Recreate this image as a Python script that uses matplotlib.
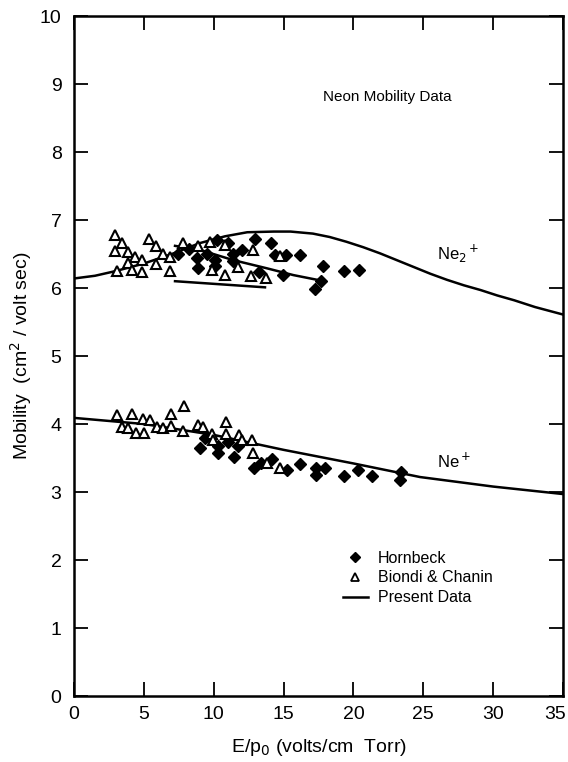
import matplotlib
matplotlib.use('Agg')
import matplotlib.pyplot as plt
import matplotlib.transforms as mtrans
from matplotlib.lines import Line2D

# Hornbeck (filled diamonds), Ne2+ group
horn2_x = [7.47, 8.2, 8.78, 8.9, 9.5, 10.1, 10.1, 10.2, 11.05, 11.4, 12.0, 11.4, 12.96, 13.27,
           14.08, 14.39, 15.18, 16.18, 14.94, 17.25, 17.66, 17.85, 19.35, 20.4]
horn2_y = [6.5, 6.57, 6.44, 6.30, 6.5, 6.41, 6.32, 6.71, 6.66, 6.5, 6.56, 6.39, 6.72, 6.24,
           6.66, 6.49, 6.49, 6.49, 6.19, 5.98, 6.11, 6.32, 6.25, 6.27]
# Biondi & Chanin (open triangles), Ne2+ group
bc2_x = [2.93, 3.4, 2.93, 3.9, 4.37, 4.85, 3.9, 3.05, 4.13, 4.9, 5.39, 5.87, 5.87, 6.4, 6.87,
         6.87, 7.83, 8.9, 9.73, 10.8, 12.8, 11.76, 9.86, 10.8, 12.7, 13.75, 14.75]
bc2_y = [6.78, 6.66, 6.55, 6.53, 6.45, 6.41, 6.37, 6.25, 6.26, 6.23, 6.72, 6.62, 6.35, 6.5, 6.45,
         6.25, 6.66, 6.62, 6.67, 6.63, 6.56, 6.31, 6.26, 6.19, 6.18, 6.14, 6.47]
# Biondi & Chanin, Ne+ group
bc1_x = [3.1, 4.13, 4.92, 5.44, 3.41, 3.89, 4.44, 5.01, 5.92, 6.4, 6.92, 6.92, 7.87, 7.83, 8.9,
         9.26, 9.86, 9.97, 10.86, 10.86, 11.81, 12.0, 12.76, 12.83, 13.79, 14.75]
bc1_y = [4.13, 4.14, 4.07, 4.06, 3.95, 3.94, 3.87, 3.87, 3.95, 3.94, 4.14, 3.97, 4.26, 3.89, 3.99,
         3.96, 3.86, 3.76, 4.03, 3.86, 3.84, 3.77, 3.77, 3.58, 3.43, 3.36]
# Hornbeck, Ne+ group
horn1_x = [9.02, 9.38, 10.33, 10.33, 11.05, 11.45, 11.76, 12.9, 13.36, 14.15, 15.22, 16.18,
           17.32, 17.32, 17.97, 19.33, 20.35, 21.36, 23.38, 23.34]
horn1_y = [3.64, 3.80, 3.68, 3.57, 3.74, 3.51, 3.68, 3.36, 3.43, 3.48, 3.32, 3.41,
           3.35, 3.25, 3.35, 3.24, 3.32, 3.24, 3.30, 3.17]

# Present data curves
ne2_x = [0, 1.5, 3.0, 5.0, 7.0, 9.0, 10.8, 12.4, 14.3, 15.5, 17.1, 18.3, 19.5, 20.7, 21.9,
         23.1, 24.3, 25.5, 26.7, 27.9, 29.1, 30.3, 31.5, 33.0, 35.0]
ne2_y = [6.14, 6.18, 6.25, 6.36, 6.50, 6.66, 6.76, 6.82, 6.83, 6.83, 6.80, 6.75, 6.68, 6.60, 6.51,
         6.41, 6.31, 6.21, 6.12, 6.04, 5.97, 5.89, 5.82, 5.72, 5.61]
ne2b_x = [7.23, 9.02, 11.4, 13.8, 15.7, 17.66]
ne2b_y = [6.62, 6.56, 6.41, 6.29, 6.19, 6.11]
ne2c_x = [7.23, 13.67]
ne2c_y = [6.10, 6.01]
ne1_x = [0, 5, 10, 15, 20, 24.77, 30, 35]
ne1_y = [4.09, 4.00, 3.84, 3.62, 3.42, 3.22, 3.08, 2.97]

xticks = [0, 5, 10, 15, 20, 25, 30, 35]
yticks = [0, 1, 2, 3, 4, 5, 6, 7, 8, 9, 10]

plain = ['Liberation Sans', 'DejaVu Sans']

fig = plt.figure(figsize=(5.68, 7.62), dpi=100)
ax = fig.add_axes([0.1303, 0.0866, 0.8609, 0.8924])

lw = 1.8
ax.plot(ne2_x, ne2_y, color='black', lw=lw)
ax.plot(ne2b_x, ne2b_y, color='black', lw=lw)
ax.plot(ne2c_x, ne2c_y, color='black', lw=lw)
ax.plot(ne1_x, ne1_y, color='black', lw=lw)

ax.plot(horn2_x, horn2_y, 'D', color='black', ms=6, ls='none')
ax.plot(horn1_x, horn1_y, 'D', color='black', ms=6, ls='none')
ax.plot(bc2_x, bc2_y, '^', mfc='white', mec='black', mew=1.5, ms=7, ls='none')
ax.plot(bc1_x, bc1_y, '^', mfc='white', mec='black', mew=1.5, ms=7, ls='none')

ax.set_xlim(0, 35)
ax.set_ylim(0, 10)
ax.set_xticks(xticks)
ax.set_yticks(yticks)
ax.tick_params(direction='in', length=10, width=1.3, top=True, right=True,
               labeltop=False, labelright=False)
ax.tick_params(axis='y', pad=9)
ax.tick_params(axis='x', pad=7)
for lab in ax.get_xticklabels() + ax.get_yticklabels():
    lab.set_family(plain)
    lab.set_fontsize(14)
    lab.set_fontstretch('condensed')
# last x label sits on the figure edge; nudge it in a little
last = ax.get_xticklabels()[-1]
last.set_transform(last.get_transform() + mtrans.ScaledTranslation(-6 / 72, 0, fig.dpi_scale_trans))
for s in ax.spines.values():
    s.set_linewidth(1.8)

ax.set_xlabel('E/p$_0$ (volts/cm  Torr)', family=plain, fontsize=14, labelpad=10)
ax.set_ylabel('Mobility  (cm$^2$ / volt sec)', family=plain, fontsize=14, labelpad=4)

ax.text(22.4, 8.81, 'Neon Mobility Data', family=plain, fontsize=11, ha='center', va='center')
ax.text(26.0, 6.5, 'Ne$_2$$^+$', family=plain, fontsize=12, ha='left', va='center')
ax.text(26.0, 3.45, 'Ne$^+$', family=plain, fontsize=12, ha='left', va='center')

handles = [Line2D([], [], marker='D', color='black', ls='none', ms=5),
           Line2D([], [], marker='^', mfc='white', mec='black', mew=1.3, ls='none', ms=6),
           Line2D([], [], color='black', lw=lw)]
ax.legend(handles, ['Hornbeck', 'Biondi & Chanin', 'Present Data'], loc='upper left',
          bbox_to_anchor=(0.52, 0.235), frameon=False, prop={'family': plain, 'size': 11.5},
          handlelength=1.6, handletextpad=0.6, labelspacing=0.3)

fig.savefig('out.png', dpi=100)
